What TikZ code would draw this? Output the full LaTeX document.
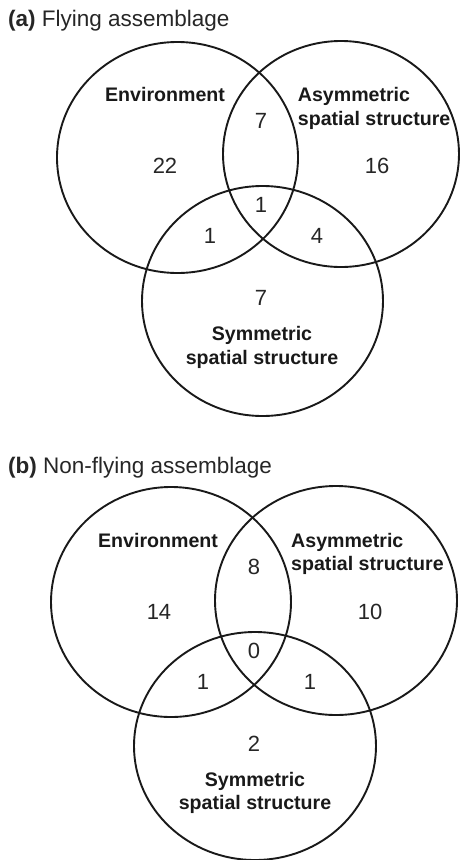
\documentclass[tikz,border=0pt]{standalone}
\usepackage{fontspec}
\setmainfont{Liberation Sans}
\usetikzlibrary{shapes.geometric}
\begin{document}
\begin{tikzpicture}[x=1pt,y=-1pt,
  venn/.style={ellipse,draw=black!90,line width=1.9pt,inner sep=0pt},
  lab/.style={font=\fontsize{19.6}{23}\selectfont\bfseries,inner sep=0pt,text=black!90},
  num/.style={font=\fontsize{22}{25}\selectfont,inner sep=0pt,text=black!85},
  ttl/.style={font=\fontsize{22.5}{26}\selectfont,inner sep=0pt,anchor=base west,text=black!85}]
\useasboundingbox (0,0) rectangle (460,860);
% ---------- panel (a)
\node[ttl] (ta) at (8,26.5) {\textbf{(a)} Flying assemblage};
\node[venn,minimum width=241pt,minimum height=231pt] (aE) at (177.5,157.5) {};
\node[venn,minimum width=236pt,minimum height=226pt] (aA) at (341,154) {};
\node[venn,minimum width=241pt,minimum height=230pt] (aS) at (262.5,301) {};
\node[lab,anchor=base] (aEl) at (165,101.7) {Environment};
\node[lab,anchor=base west] (aAl1) at (297.7,101.7) {Asymmetric};
\node[lab,anchor=base west] (aAl2) at (297.7,125) {spatial structure};
\node[lab,anchor=base] (aSl1) at (262,340) {Symmetric};
\node[lab,anchor=base] (aSl2) at (262,364) {spatial structure};
\node[num] (aEA) at (261,121) {7};
\node[num] (aEo) at (165,166) {22};
\node[num] (aAo) at (377,166) {16};
\node[num] (aEAS) at (261,205) {1};
\node[num] (aES) at (210,236) {1};
\node[num] (aAS) at (317,236) {4};
\node[num] (aSo) at (261,298) {7};
% ---------- panel (b)
\node[ttl] (tb) at (8,473) {\textbf{(b)} Non-flying assemblage};
\node[venn,minimum width=240pt,minimum height=230pt] (bE) at (171,602) {};
\node[venn,minimum width=242pt,minimum height=229pt] (bA) at (336,600.5) {};
\node[venn,minimum width=242pt,minimum height=228pt] (bS) at (255,746) {};
\node[lab,anchor=base] (bEl) at (158,547.3) {Environment};
\node[lab,anchor=base west] (bAl1) at (291,547.3) {Asymmetric};
\node[lab,anchor=base west] (bAl2) at (291,570) {spatial structure};
\node[lab,anchor=base] (bSl1) at (255,786) {Symmetric};
\node[lab,anchor=base] (bSl2) at (255,809.3) {spatial structure};
\node[num] (bEA) at (254,567) {8};
\node[num] (bEo) at (159,612) {14};
\node[num] (bAo) at (370,612) {10};
\node[num] (bEAS) at (254,651) {0};
\node[num] (bES) at (203,682) {1};
\node[num] (bAS) at (310,682) {1};
\node[num] (bSo) at (254,744) {2};
\end{tikzpicture}
\end{document}
